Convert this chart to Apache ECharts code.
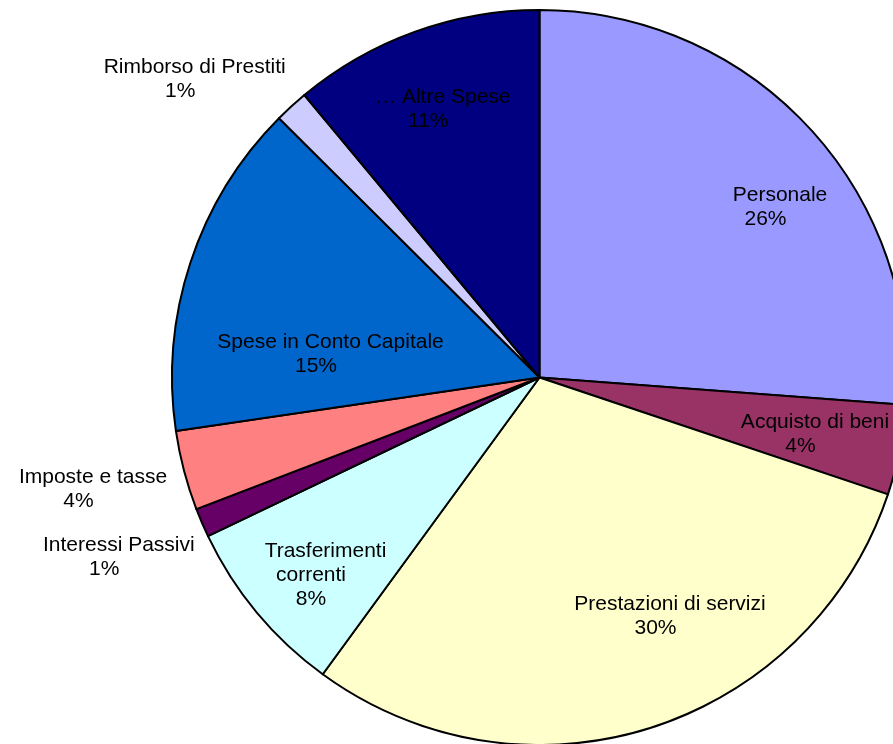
<!DOCTYPE html>
<html>
<head>
<meta charset="utf-8">
<script src="https://cdn.jsdelivr.net/npm/echarts@6/dist/echarts.min.js"></script>
<style>
  html, body { margin: 0; padding: 0; background: #fff; }
  #chart { width: 893px; height: 744px; }
</style>
</head>
<body>
<div id="chart"></div>
<script>
// ---- data ----
var categories = [
  'Personale',
  'Acquisto di beni',
  'Prestazioni di servizi',
  'Trasferimenti\ncorrenti',
  'Interessi Passivi',
  'Imposte e tasse',
  'Spese in Conto Capitale',
  'Rimborso di Prestiti',
  '… Altre Spese'
];
var values = [26.19, 3.96, 29.89, 7.86, 1.27, 3.50, 14.79, 1.49, 11.05];

// ---- styling / layout (not data) ----
var colors = ['#9999FF', '#993366', '#FFFFCC', '#CCFFFF', '#660066', '#FF8080', '#0066CC', '#CCCCFF', '#000080'];
var labelAnchors = [
  [780, 207.5], [815, 434.5], [670, 616.5], [325.5, 575.5], [118.8, 557.5],
  [93, 489], [330.5, 354.3], [194.7, 79.2], [442.8, 109.4]
];

var total = values.reduce(function (a, b) { return a + b; }, 0);
var font = '"Liberation Sans", Arial, sans-serif';

var chart = echarts.init(document.getElementById('chart'), null, { renderer: 'canvas' });
chart.setOption({
  animation: false,
  backgroundColor: '#ffffff',
  series: [{
    type: 'pie',
    center: [539.5, 377.5],
    radius: [0, 367.5],
    startAngle: 90,
    clockwise: true,
    avoidLabelOverlap: false,
    silent: true,
    data: categories.map(function (c, i) {
      return { name: c, value: values[i], itemStyle: { color: colors[i] } };
    }),
    itemStyle: { borderColor: '#000', borderWidth: 2 },
    label: {
      show: true,
      position: 'inside',
      align: 'center',
      verticalAlign: 'middle',
      color: '#000',
      fontFamily: font,
      fontSize: 21,
      lineHeight: 24,
      formatter: function (p) {
        var pct = Math.round(values[p.dataIndex] / total * 100) + '%';
        var lines = p.name.split('\n');
        var out = ['{a|' + lines[0] + '}'];
        for (var k = 1; k < lines.length; k++) out.push('{b|' + lines[k] + '}');
        out.push('{b|' + pct + '}');
        return out.join('\n');
      },
      rich: {
        a: { fontFamily: font, fontSize: 21, lineHeight: 24, color: '#000', align: 'center' },
        b: { fontFamily: font, fontSize: 21, lineHeight: 24, color: '#000', align: 'center', padding: [0, 29, 0, 0] }
      }
    },
    labelLine: { show: false },
    labelLayout: function (params) {
      var a = labelAnchors[params.dataIndex];
      return { x: a[0], y: a[1], align: 'center', verticalAlign: 'middle' };
    }
  }]
});
</script>
</body>
</html>
